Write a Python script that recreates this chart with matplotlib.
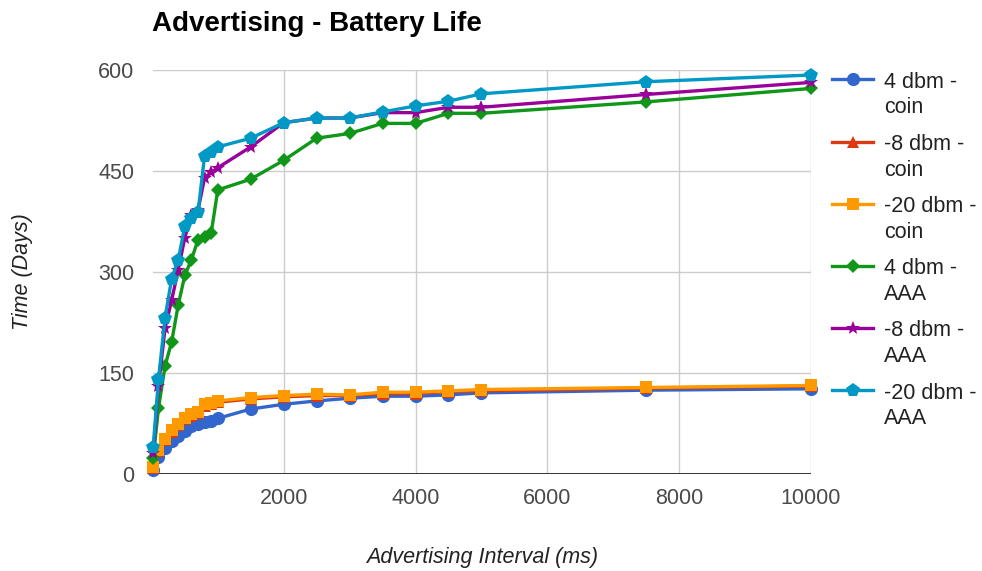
import matplotlib
matplotlib.use("Agg")
import matplotlib.pyplot as plt
from matplotlib.lines import Line2D

plt.rcParams["font.family"] = ["Liberation Sans", "DejaVu Sans"]

# Advertising interval (ms) and battery life (days) per configuration
interval_ms = [20, 100, 200, 300, 400, 500, 600, 700, 800, 900, 1000,
               1500, 2000, 2500, 3000, 3500, 4000, 4500, 5000, 7500, 10000]

coin_4dbm = [5, 25, 38, 48, 56, 63, 70, 74, 77, 78, 82,
             96, 103, 108, 112, 115, 115, 117, 120, 124, 126]
coin_m8dbm = [8, 33, 50, 62, 72, 81, 86, 90, 101, 103, 106,
              111, 114, 116, 116, 119, 119, 122, 123, 127, 130]
coin_m20dbm = [10, 35, 52, 64, 74, 83, 88, 92, 104, 105, 108,
               113, 116, 118, 117, 121, 121, 123, 125, 128, 131]
aaa_4dbm = [23, 97, 160, 196, 251, 295, 318, 348, 352, 358, 422,
            438, 466, 499, 506, 521, 521, 536, 536, 553, 573]
aaa_m8dbm = [30, 130, 216, 258, 303, 351, 385, 392, 440, 448, 455,
             486, 522, 529, 529, 537, 537, 545, 545, 564, 582]
aaa_m20dbm = [40, 140, 232, 290, 318, 368, 380, 389, 473, 478, 486,
              499, 522, 529, 529, 538, 547, 554, 565, 583, 593]

series_labels = [("4 dbm -", "coin"), ("-8 dbm -", "coin"), ("-20 dbm -", "coin"),
                 ("4 dbm -", "AAA"), ("-8 dbm -", "AAA"), ("-20 dbm -", "AAA")]
series_values = [coin_4dbm, coin_m8dbm, coin_m20dbm, aaa_4dbm, aaa_m8dbm, aaa_m20dbm]
series_colors = ["#3366cc", "#dc3912", "#ff9900", "#109618", "#990099", "#0099c6"]
series_markers = ["o", "^", "s", "D", "*", "p"]
series_msize = [9.5, 9.0, 8.5, 7.5, 10.5, 10.5]

x_ticks = [2000, 4000, 6000, 8000, 10000]
y_ticks = [0, 150, 300, 450, 600]

W, H = 982, 571
fig = plt.figure(figsize=(W / 100, H / 100), dpi=100)
left_px, right_px, top_px, bottom_px = 153.2, 811.0, 70.3, 473.5
ax = fig.add_axes([left_px / W, 1 - bottom_px / H,
                   (right_px - left_px) / W, (bottom_px - top_px) / H])

ax.set_xlim(20, 10000)
ax.set_ylim(0, 600)
ax.set_xticks(x_ticks)
ax.set_yticks(y_ticks)
ax.grid(True, color="#cccccc", linewidth=1.0)
ax.set_axisbelow(True)
for s in ax.spines.values():
    s.set_visible(False)
ax.tick_params(length=0, labelsize=15.5, labelcolor="#4a4a4a")
ax.tick_params(axis="y", pad=13.5)
ax.tick_params(axis="x", pad=10.5)
ax.axhline(0, color="#333333", linewidth=1.4, zorder=1.5)

for vals, col, mk, ms in zip(series_values, series_colors, series_markers, series_msize):
    ax.plot(interval_ms, vals, color=col, linewidth=2.4, marker=mk, markersize=ms,
            markeredgewidth=0, clip_on=False, zorder=3)

ax.set_xlabel("Advertising Interval (ms)", fontsize=15.5, style="italic",
              color="#222222", labelpad=27)
ax.set_ylabel("Time (Days)", fontsize=15.5, style="italic", color="#222222",
              labelpad=47)

fig.text(152 / W, 1 - 30.7 / H, "Advertising - Battery Life", fontsize=20,
         fontweight="bold", color="#000000", ha="left", va="baseline")

# legend, one entry per series with its label wrapped onto two lines
for i, ((l1, l2), col, mk, ms) in enumerate(zip(series_labels, series_colors,
                                                  series_markers, series_msize)):
    y = 79.3 + 62.2 * i
    fy = 1 - y / H
    fig.add_artist(Line2D([831.7 / W, 873.3 / W], [fy, fy], color=col,
                          linewidth=2.4, transform=fig.transFigure))
    fig.add_artist(Line2D([852.5 / W], [fy], color=col, marker=mk, markersize=ms,
                          markeredgewidth=0, transform=fig.transFigure))
    fig.text(884.3 / W, 1 - (y + 8.3) / H, l1, fontsize=15.5, color="#222222",
             ha="left", va="baseline")
    fig.text(884.3 / W, 1 - (y + 34.0) / H, l2, fontsize=15.5, color="#222222",
             ha="left", va="baseline")

fig.savefig("out.png", dpi=100)
